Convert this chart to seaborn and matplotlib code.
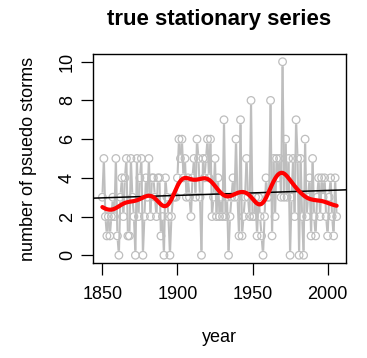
import numpy as np
import pandas as pd
import matplotlib
matplotlib.use("Agg")
import matplotlib.pyplot as plt
from matplotlib.collections import LineCollection
import seaborn as sns

# Yearly counts of pseudo storms, 1850-2006
first_year = 1850
counts = [
    3, 5, 2, 1, 2, 1, 2, 3, 2, 5,   # 1850s
    1, 0, 3, 4, 2, 4, 5, 1, 1, 5,   # 1860s
    3, 2, 0, 5, 2, 4, 5, 0, 2, 4,   # 1870s
    3, 5, 2, 4, 4, 3, 2, 4, 4, 1,   # 1880s
    2, 0, 4, 3, 2, 0, 2, 3, 3, 3,   # 1890s
    4, 6, 5, 6, 4, 5, 3, 4, 3, 2,   # 1900s
    4, 5, 3, 6, 5, 3, 0, 5, 4, 5,   # 1910s
    6, 4, 6, 2, 3, 5, 2, 4, 2, 3,   # 1920s
    2, 7, 2, 3, 0, 2, 3, 4, 3, 6,   # 1930s
    3, 1, 7, 1, 2, 3, 5, 3, 2, 8,   # 1940s
    2, 2, 3, 1, 3, 2, 1, 0, 2, 4,   # 1950s
    3, 3, 8, 1, 5, 2, 5, 4, 5, 3,   # 1960s
    10, 3, 6, 3, 5, 0, 3, 5, 2, 7,  # 1970s
    5, 0, 5, 2, 0, 6, 2, 3, 4, 1,   # 1980s
    5, 2, 1, 3, 4, 2, 4, 3, 4, 2,   # 1990s
    1, 3, 4, 2, 1, 4, 2,            # 2000-2006
]
years = np.arange(first_year, first_year + len(counts))

x_ticks = [1850, 1900, 1950, 2000]
y_ticks = [0, 2, 4, 6, 8, 10]

df = pd.DataFrame({"year": years, "storms": counts})

# Gaussian kernel smooth of the counts
bandwidth = 5.0
xs = df["year"].to_numpy(float)
ys = df["storms"].to_numpy(float)
w = np.exp(-0.5 * ((xs[:, None] - xs[None, :]) / bandwidth) ** 2)
smooth = (w @ ys) / w.sum(axis=1)
sm_df = pd.DataFrame({"year": xs, "fit": smooth})

sns.set_style("ticks")
plt.rcParams["font.family"] = ["Liberation Sans", "DejaVu Sans"]
plt.rcParams["text.color"] = "black"
plt.rcParams["axes.labelcolor"] = "black"

W, H = 367, 358
fig = plt.figure(figsize=(W / 100, H / 100), dpi=100)
ax = fig.add_axes([93 / W, 1 - 263 / H, 253 / W, 209 / H])

span = xs.max() - xs.min()
xlim = (xs.min() - 0.04 * span, xs.max() + 0.04 * span)
ylim = (-0.4, 10.4)
ax.set_xlim(*xlim)
ax.set_ylim(*ylim)

gray = "#BEBEBE"

# connecting segments with small gaps around each point
pts = ax.transData.transform(np.column_stack([xs, ys]))
gap = 4.6
segs = []
inv = ax.transData.inverted()
for p0, p1 in zip(pts[:-1], pts[1:]):
    d = p1 - p0
    L = np.hypot(*d)
    if L <= 2 * gap:
        continue
    u = d / L
    a = inv.transform(p0 + u * gap)
    b = inv.transform(p1 - u * gap)
    segs.append([a, b])
ax.add_collection(LineCollection(segs, colors=gray, linewidths=1.5, zorder=1))

sns.scatterplot(data=df, x="year", y="storms", ax=ax, s=30, marker="o",
                facecolors="none", edgecolor=gray, linewidth=0.9, zorder=2)

sns.regplot(data=df, x="year", y="storms", ax=ax, scatter=False, ci=None,
            truncate=False, color="black", line_kws={"lw": 1.1, "zorder": 3})

sns.lineplot(data=sm_df, x="year", y="fit", ax=ax, color="red", lw=3,
             zorder=4)

ax.set_xlim(*xlim)
ax.set_ylim(*ylim)
ax.set_xticks(x_ticks)
ax.set_yticks(y_ticks)
ax.tick_params(axis="both", length=8.4, width=0.9, labelsize=13,
               color="black", labelcolor="black")
ax.tick_params(axis="x", pad=8)
ax.tick_params(axis="y", pad=4)
plt.setp(ax.get_yticklabels(), rotation=90, va="center")
for sp in ax.spines.values():
    sp.set_visible(True)
    sp.set_linewidth(1.0)
    sp.set_color("black")

ax.set_xlabel("year", fontsize=13, va="center")
ax.set_ylabel("number of psuedo storms", fontsize=13, va="center")
ax.xaxis.set_label_coords(0.5, (263 - 338) / 209)
ax.yaxis.set_label_coords((28 - 93) / 253, 0.5)

fig.text(219.5 / W, 1 - 19 / H, "true stationary series", ha="center",
         va="center", fontsize=16, fontweight="bold", color="black")

fig.savefig("out.png", dpi=100)
